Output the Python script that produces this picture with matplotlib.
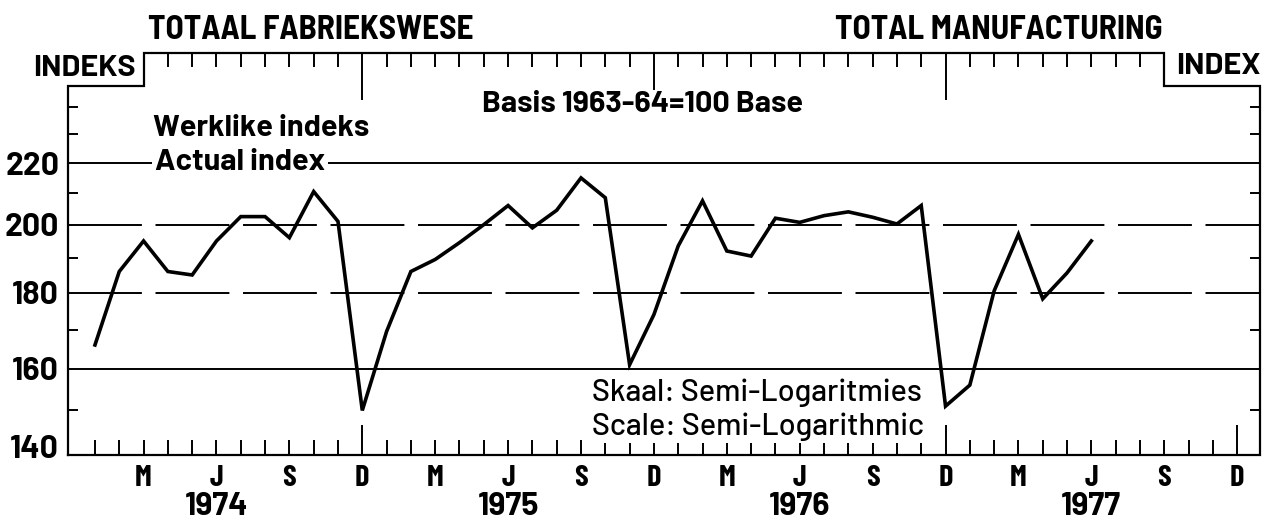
import numpy as np
import matplotlib
matplotlib.use("Agg")
import matplotlib.pyplot as plt
from matplotlib.transforms import ScaledTranslation, blended_transform_factory

# Werklike indeks / Actual index, maandeliks Jan 1974 - Jun 1977 (Basis 1963-64=100)
index_1974 = [166, 186, 195, 186, 185, 195, 202.5, 202.5, 196, 210.5, 201, 150]
index_1975 = [169.5, 186, 189.5, 194.5, 200, 206, 199, 204.5, 215, 208.5, 161, 174]
index_1976 = [193.5, 207.5, 192, 190.5, 202, 200.7, 202.8, 204, 202.3, 200.2, 206, 151]
index_1977 = [156, 180.5, 197, 178.3, 185.6, 195]
actual_index = index_1974 + index_1975 + index_1976 + index_1977
months = np.arange(len(actual_index))  # 0 = Jan 1974

month_letters = {2: "M", 5: "J", 8: "S", 11: "D"}
years = ["1974", "1975", "1976", "1977"]
y_labels = [140, 160, 180, 200, 220]
y_minor = [150, 170, 190, 210, 230, 240]
grid_solid = [160, 220]
grid_broken = [180, 200]

W, H = 1270, 525

# lettertipes
NARROW = ["Barlow Condensed", "Asap Condensed", "DejaVu Sans"]
SEMI = ["Barlow Semi Condensed", "Barlow Condensed", "DejaVu Sans"]
WIDE = ["Barlow", "Barlow Semi Condensed", "DejaVu Sans"]
plt.rcParams["font.family"] = NARROW
plt.rcParams["font.weight"] = "bold"


def px(x, y):
    return x / W, 1 - y / H


fig = plt.figure(figsize=(W / 100, H / 100), dpi=100)
fig.patch.set_facecolor("white")
ax = fig.add_axes([67.5 / W, (H - 455) / H, (1260 - 67.5) / W, (455 - 52.7) / H])

ax.set_yscale("log")
ax.set_xlim(-1.13, 47.94)
ax.set_ylim(140, 261)
x0, x1 = ax.get_xlim()
step_y = 248
top_y = ax.get_ylim()[1]

for s in ax.spines.values():
    s.set_visible(False)

# raam met trappies bo-aan
frame_x = [x0, x0, 2, 2, 44, 44, x1, x1, x0]
frame_y = [140, step_y, step_y, top_y, top_y, step_y, step_y, 140, 140]
ax.plot(frame_x, frame_y, color="black", lw=1.6, clip_on=False, zorder=4,
        solid_joinstyle="miter")

# roosterlyne
for v in grid_solid:
    ax.axhline(v, color="black", lw=1.4, zorder=1)
for v in grid_broken:
    ax.axhline(v, color="black", lw=1.4, zorder=1, linestyle=(0, (38, 7)))

# data
ax.plot(months, actual_index, color="black", lw=2.6, zorder=3,
        solid_joinstyle="miter")

# x-as onder
ax.set_xticks(range(48))
ax.set_xticklabels([month_letters.get(i % 12, "") for i in range(48)])
ax.tick_params(axis="x", which="major", direction="in", length=10.8, width=1.4,
               pad=7, labelsize=22)
for i, t in enumerate(ax.xaxis.get_major_ticks()):
    if i % 12 == 11:
        t.tick1line.set_markersize(21.6)

trans = blended_transform_factory(ax.transData, ax.transAxes)
for k, yr in enumerate(years):
    ax.text(12 * k + 5, -0.127, yr, transform=trans, ha="center", va="center",
            fontsize=23, family=WIDE)

# x-as bo
top = ax.secondary_xaxis("top")
top.set_xticks(range(3, 44))
top.set_xticklabels([])
top.spines["top"].set_visible(False)
top.tick_params(direction="in", length=10, width=1.4)
for i, t in zip(range(3, 44), top.xaxis.get_major_ticks()):
    if i % 12 == 11:
        t.tick1line.set_markersize(34)
        t.tick2line.set_markersize(34)

# y-as
ax.yaxis.set_major_locator(matplotlib.ticker.FixedLocator(y_labels))
ax.yaxis.set_major_formatter(matplotlib.ticker.FixedFormatter([str(v) for v in y_labels]))
ax.yaxis.set_minor_locator(matplotlib.ticker.FixedLocator(y_minor))
ax.yaxis.set_minor_formatter(matplotlib.ticker.NullFormatter())
ax.tick_params(axis="y", which="major", length=0, pad=6, labelsize=23)
ax.tick_params(axis="y", which="minor", direction="in", length=7.2, width=1.4,
               left=True, right=True)
for lbl in ax.get_yticklabels():
    lbl.set_family(WIDE)
lbl = ax.get_yticklabels()[0]
lbl.set_transform(lbl.get_transform() + ScaledTranslation(0, 8 / 100, fig.dpi_scale_trans))

# teks
fig.text(*px(148, 30), "TOTAAL FABRIEKSWESE", ha="left", va="center", fontsize=24, family=SEMI)
fig.text(*px(1163, 30), "TOTAL MANUFACTURING", ha="right", va="center", fontsize=24, family=SEMI)
fig.text(*px(33, 68), "INDEKS", ha="left", va="center", fontsize=22, family=WIDE)
fig.text(*px(1176, 67), "INDEX", ha="left", va="center", fontsize=22, family=WIDE)
fig.text(*px(642, 105), "Basis 1963-64=100 Base", ha="center", va="center", fontsize=22,
         family=WIDE, bbox=dict(facecolor="white", edgecolor="none", pad=1), zorder=5)
fig.text(*px(153, 128), "Werklike indeks", ha="left", va="center", fontsize=22, family=WIDE)
fig.text(*px(155, 163), "Actual index", ha="left", va="center", fontsize=22, family=WIDE,
         bbox=dict(facecolor="white", edgecolor="none", pad=2))
bb = dict(facecolor="white", edgecolor="none", pad=1)
fig.text(*px(592, 393), "Skaal: Semi-Logaritmies", ha="left", va="center",
         fontsize=22, fontweight="medium", family=WIDE, bbox=bb, zorder=5)
fig.text(*px(592, 427), "Scale: Semi-Logarithmic", ha="left", va="center",
         fontsize=22, fontweight="medium", family=WIDE, bbox=bb, zorder=5)

fig.savefig("out.png", dpi=100, facecolor="white")
